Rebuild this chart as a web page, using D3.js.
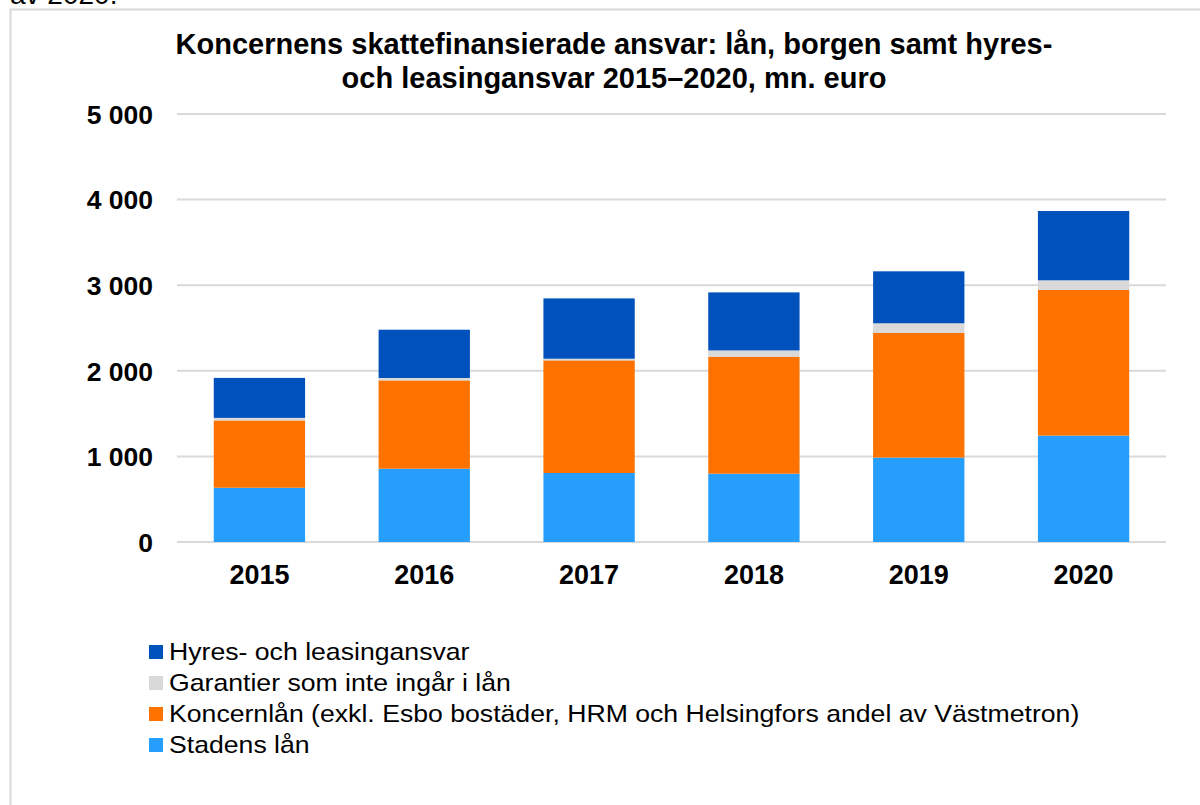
<!DOCTYPE html>
<html>
<head>
<meta charset="utf-8">
<script src="https://cdn.jsdelivr.net/npm/d3@7"></script>
<style>
    html, body { margin: 0; padding: 0; background: #fff; }
    svg { display: block; font-family: "Liberation Sans", Arial, sans-serif; }
</style>
</head>
<body>
<div id="chart"></div>
<script>
// Data (mn. euro)
const years = ['2015', '2016', '2017', '2018', '2019', '2020'];
const stadensLan = [634, 856, 806, 798, 986, 1243];
const koncernLan = [786, 1032, 1316, 1367, 1456, 1701];
const garantier = [30, 28, 19, 73, 113, 113];
const hyresLeasing = [467, 564, 705, 678, 607, 810];
const yTicks = [0, 1000, 2000, 3000, 4000, 5000];

const seriesNames = [
    'Stadens lån',
    'Koncernlån (exkl. Esbo bostäder, HRM och Helsingfors andel av Västmetron)',
    'Garantier som inte ingår i lån',
    'Hyres- och leasingansvar'
];
const seriesColors = ['#259efe', '#fe7300', '#d9d9d9', '#0051bb'];
const seriesValues = [stadensLan, koncernLan, garantier, hyresLeasing];

const width = 1200, height = 805;
const margin = { top: 114, right: 34, bottom: 263, left: 177 };

const svg = d3.select('#chart')
    .append('svg')
    .attr('width', width)
    .attr('height', height);

// Text above the frame (cut off in the original)
svg.append('text')
    .attr('x', 10)
    .attr('y', 4)
    .attr('font-size', '28px')
    .attr('fill', '#000')
    .text('av 2020.');

// Frame
svg.append('rect')
    .attr('x', 10.5)
    .attr('y', 9.5)
    .attr('width', 1200)
    .attr('height', 900)
    .attr('fill', '#fff')
    .attr('stroke', '#d9d9d9')
    .attr('stroke-width', 2);

// Title
const title = svg.append('text')
    .attr('text-anchor', 'middle')
    .attr('font-size', '29px')
    .attr('font-weight', 'bold')
    .attr('fill', '#000');
title.append('tspan').attr('x', 614).attr('y', 54)
    .text('Koncernens skattefinansierade ansvar: lån, borgen samt hyres-');
title.append('tspan').attr('x', 614).attr('y', 88)
    .text('och leasingansvar 2015–2020, mn. euro');

// Build stack table
const table = years.map((y, i) => {
    const row = { year: y };
    seriesNames.forEach((s, k) => { row[s] = seriesValues[k][i]; });
    return row;
});
const stacked = d3.stack().keys(seriesNames)(table);

// Scales
const xScale = d3.scaleBand()
    .domain(years)
    .range([margin.left, width - margin.right])
    .paddingInner(0.446)
    .paddingOuter(0.223);

const yScale = d3.scaleLinear()
    .domain([0, 5000])
    .range([height - margin.bottom, margin.top]);

const fmt = v => d3.format(',')(v).replace(/,/g, ' ');

// Gridlines
svg.append('g')
    .selectAll('line')
    .data(yTicks)
    .enter()
    .append('line')
    .attr('x1', margin.left)
    .attr('x2', width - margin.right)
    .attr('y1', d => yScale(d))
    .attr('y2', d => yScale(d))
    .attr('stroke', '#d9d9d9')
    .attr('stroke-width', 2);

// Y axis labels
const yAxis = svg.append('g')
    .attr('transform', `translate(${margin.left}, 0)`)
    .call(d3.axisLeft(yScale).tickValues(yTicks).tickFormat(fmt).tickSize(0).tickPadding(24));
yAxis.select('.domain').remove();
yAxis.selectAll('text')
    .attr('font-size', '26.5px')
    .attr('font-weight', 'bold')
    .attr('font-family', '"Liberation Sans", Arial, sans-serif')
    .attr('fill', '#000')
    .attr('dy', '0.35em');

// Bars
svg.append('g')
    .selectAll('g')
    .data(stacked)
    .enter()
    .append('g')
    .attr('fill', (d, i) => seriesColors[i])
    .selectAll('rect')
    .data(d => d)
    .enter()
    .append('rect')
    .attr('x', d => xScale(d.data.year))
    .attr('width', xScale.bandwidth())
    .attr('y', d => yScale(d[1]))
    .attr('height', d => yScale(d[0]) - yScale(d[1]));

// X axis labels
const xAxis = svg.append('g')
    .attr('transform', `translate(0, ${height - margin.bottom})`)
    .call(d3.axisBottom(xScale).tickSize(0).tickPadding(23));
xAxis.select('.domain').remove();
xAxis.selectAll('text')
    .attr('font-size', '27px')
    .attr('font-weight', 'bold')
    .attr('font-family', '"Liberation Sans", Arial, sans-serif')
    .attr('fill', '#000');

// Legend (reverse order, top = last series)
const legendOrder = d3.range(seriesNames.length).reverse();
const legend = svg.append('g')
    .selectAll('g')
    .data(legendOrder)
    .enter()
    .append('g')
    .attr('transform', (d, i) => `translate(149, ${652 + i * 31})`);

legend.append('rect')
    .attr('x', 0)
    .attr('y', -7)
    .attr('width', 14)
    .attr('height', 14)
    .attr('fill', d => seriesColors[d]);

legend.append('text')
    .attr('transform', 'translate(20, 0) scale(1.11, 1)')
    .attr('dy', '0.32em')
    .attr('font-size', '24px')
    .attr('fill', '#000')
    .text(d => seriesNames[d]);
</script>
</body>
</html>
